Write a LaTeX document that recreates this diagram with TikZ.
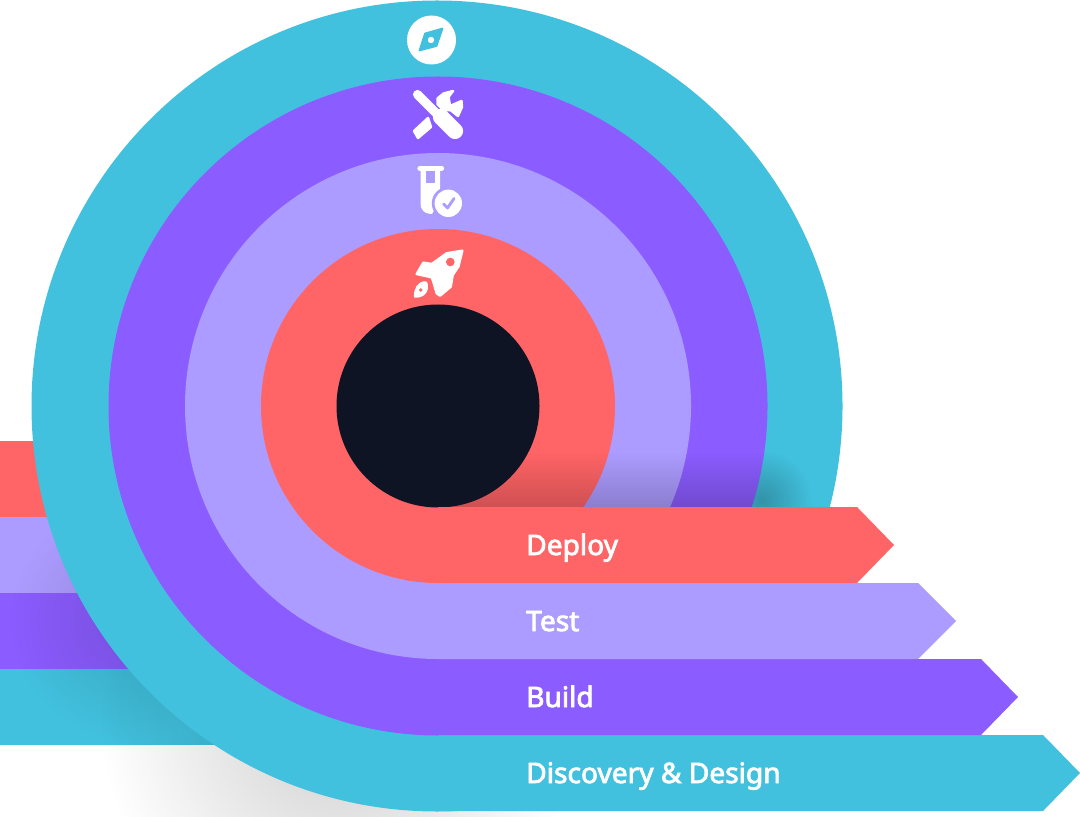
\documentclass[tikz,border=0pt]{standalone}
\usepackage{fontspec}
\setmainfont{Noto Sans}[AutoFakeBold=2.8]
\usetikzlibrary{fadings}
\definecolor{ringteal}{RGB}{66,193,222}
\definecolor{ringpurple}{RGB}{139,92,255}
\definecolor{ringlav}{RGB}{172,156,255}
\definecolor{ringred}{RGB}{255,100,102}
\definecolor{coreblack}{RGB}{15,20,37}
\tikzfading[name=shadowfade, inner color=transparent!81, outer color=transparent!100]
\tikzfading[name=bandfade, inner color=transparent!87, outer color=transparent!100]
\tikzfading[name=spotfade, inner color=transparent!76, outer color=transparent!100]
\tikzfading[name=dropfade, top color=transparent!100, bottom color=transparent!81]
\tikzset{
	phase/.style={font=\bfseries\fontsize{8}{10}\selectfont, text=white, anchor=base west, inner sep=0pt},
	icon/.style={fill=white, draw=white, line join=round, line width=0.7pt},
}
\begin{document}
\begin{tikzpicture}[x=0.01cm, y=-0.01cm]
		\useasboundingbox (0,0) rectangle (1080,816);
		% bands on the left, behind the rings
		\path [fill=ringred] (0,441) rectangle (300,517);
		\path [fill=ringlav] (0,517) rectangle (300,593);
		\path [fill=ringpurple] (0,593) rectangle (300,669);
		\path [fill=ringteal] (0,669) rectangle (300,745);
		\path [fill=black, path fading=shadowfade] (340,720) circle (240);
		\path [fill=black, path fading=bandfade] (130,620) circle (120);
		% rings
		\path [fill=ringteal] (437,406) circle (405.5);
		\path [fill=black, path fading=spotfade] (762,500) circle (50);
		\path [fill=ringpurple] (438,406) circle (329.5);
		\path [fill=ringlav] (438,406) circle (253);
		\path [fill=ringred] (438,406) circle (177);
		% shade above the deploy arrow
		\begin{scope}
			\clip (438,406) circle (329.5);
			\path [fill=black, path fading=dropfade] (438,452) rectangle (800,507);
		\end{scope}
		\path [fill=coreblack] (438,406) circle (101.5);
		% arrows
		\path [fill=ringteal] (438,735) -- (1043,735) -- (1080,773) -- (1043,811) -- (438,811) -- cycle;
		\path [fill=ringpurple] (438,659) -- (981,659) -- (1018,697) -- (981,735) -- (438,735) -- cycle;
		\path [fill=ringlav] (438,583) -- (918,583) -- (956,621) -- (918,659) -- (438,659) -- cycle;
		\path [fill=ringred] (438,507) -- (857,507) -- (894,545) -- (857,583) -- (438,583) -- cycle;
		\node [phase] (deploy) at (525.5,555) {Deploy};
		\node [phase] (test) at (525.5,631) {Test};
		\node [phase] (build) at (525.5,707) {Build};
		\node [phase] (discovery) at (525.5,783) {Discovery \& Design};
		% compass
		\path [fill=white] (431.5,40) circle (24.5);
		\path [fill=ringteal, draw=ringteal, line join=round, line width=0.5pt] (442.5,28.5) -- (425,33.5) -- (419.5,50.5) -- (436.5,46) -- cycle;
		\path [fill=white] (431,40) circle (3.2);
		% tools
		\draw [white, line width=2.6pt, line cap=round] (417.5,94.5) -- (436,113);
		\draw [white, line width=4.6pt, line cap=round] (441,117) -- (455,131);
		\path [icon] (414,131) -- (428,118) -- (431,127) -- (418,138) -- cycle;
		\path [icon] (437.5,98.5) -- (443.5,93.5) -- (453,91) -- (448.5,97) -- (450,106) -- (461.5,101) -- (462,107) -- (458,116) -- (450.5,110) -- (443.5,110.5) -- (437.5,104) -- cycle;
		% flask
		\draw [white, line width=1.5pt, line cap=round] (420,168.3) -- (441.5,168.3);
		\path [fill=white] (420.5,168) -- (440,168) -- (440,200) -- (432,214) -- (431,214) .. controls (424,214) and (420.5,209) .. (420.5,204) -- cycle;
		\path [fill=ringlav] (426,171) rectangle (435,183);
		\path [fill=ringlav] (448.3,203.3) circle (16.5);
		\path [fill=white] (448.3,203.3) circle (13.7);
		\draw [ringlav, line width=0.8pt, line cap=round, line join=round] (443.5,204) -- (447.5,208) -- (454,198.5);
		% rocket
		\path [icon] (462.3,250.7) -- (446.7,253.3) -- (435,261.7) -- (431.7,264) -- (423.3,262.7) -- (416.7,274) -- (431.7,277.3) -- (433.3,281.7) -- (436.7,293.3) -- (440,295.7) -- (450.7,286.7) -- (452.7,275) -- (458.3,266.7) -- cycle;
		\path [fill=ringred] (450.3,262) circle (4.3);
		\path [icon] (426,282.5) .. controls (418,282) and (415,290) .. (415,296.5) .. controls (423,297) and (429,291) .. (426,282.5) -- cycle;
		\path [fill=ringred] (420.7,290) circle (1.8);
		\end{tikzpicture}
\end{document}
